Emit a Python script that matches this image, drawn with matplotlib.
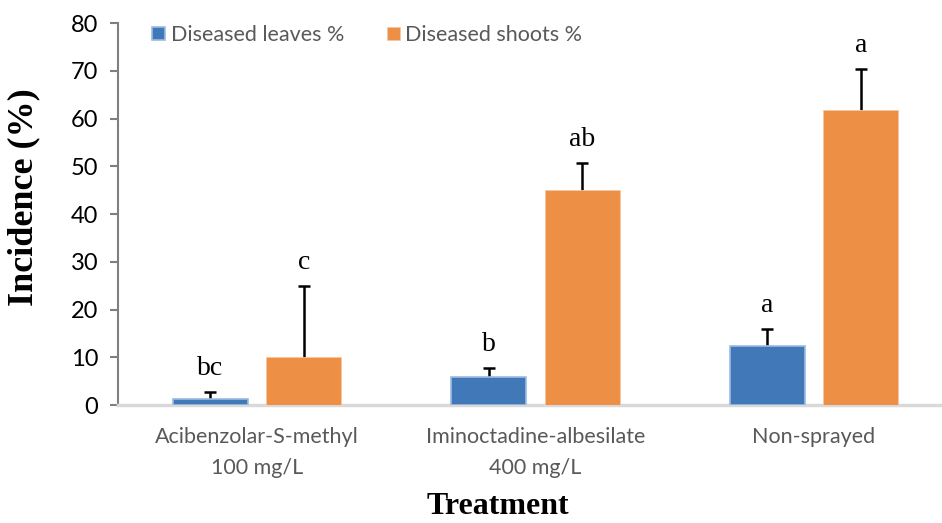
import matplotlib.pyplot as plt
import numpy as np

# Datos
treatments = ["Acibenzolar-S-methyl\n100 mg/L", "Iminoctadine-albesilate\n400 mg/L", "Non-sprayed"]
leaves = [1.2, 5.9, 12.4]
leaves_err = [1.5, 1.8, 3.5]
shoots = [10.0, 45.0, 61.8]
shoots_err = [15.0, 5.7, 8.6]
leaves_letters = ["bc", "b", "a"]
shoots_letters = ["c", "ab", "a"]

blue = '#4178b8'
orange = '#ed8f44'

fig = plt.figure(figsize=(9.42, 5.23), dpi=100)
ax = fig.add_axes([0.125, 0.2256, 0.875, 0.7304])

x = np.arange(len(treatments))
w = 0.27
off = 0.168

ax.bar(x - off, leaves, w, color=blue, edgecolor='#9dbbe0', linewidth=1.2, label='Diseased leaves %', zorder=3)
ax.bar(x + off, shoots, w, color=orange, edgecolor='#f5c6a0', linewidth=0.5, label='Diseased shoots %', zorder=3)

# barras de error solo hacia arriba (se oculta el cap inferior)
for xs, vals, errs in [(x - off, leaves, leaves_err), (x + off, shoots, shoots_err)]:
    _, caps, _ = ax.errorbar(xs, vals, yerr=[np.zeros(3), errs], fmt='none', ecolor='black',
                             elinewidth=1.8, capsize=4, capthick=1.8, zorder=2)
    caps[0].set_visible(False)

for i in range(len(x)):
    ax.text(x[i] - off, leaves[i] + leaves_err[i] + 2.3, leaves_letters[i], ha='center', va='bottom',
            fontsize=20, family='Liberation Serif')
    ax.text(x[i] + off, shoots[i] + shoots_err[i] + 2.3, shoots_letters[i], ha='center', va='bottom',
            fontsize=20, family='Liberation Serif')

ax.set_ylim(0, 80)
ax.set_xlim(-0.5, 2.46)
ax.set_yticks(range(0, 81, 10))
ax.set_xticks(x)
ax.set_xticklabels(treatments, fontsize=15.5, color='#595959', family='Lato', linespacing=1.7)
ax.tick_params(axis='y', labelsize=17, colors='#7f7f7f', labelcolor='black', length=6, width=1.5,
               direction='out', pad=8)
for lab in ax.get_yticklabels():
    lab.set_family('Lato')
ax.tick_params(axis='x', length=0, pad=16)

for s in ['top', 'right']:
    ax.spines[s].set_visible(False)
ax.spines['left'].set_color('#7f7f7f')
ax.spines['left'].set_linewidth(1.5)
ax.spines['bottom'].set_color('#d9d9d9')
ax.spines['bottom'].set_linewidth(2.5)

ax.set_ylabel('Incidence (%)', fontsize=26, fontweight='bold', family='Liberation Serif')
ax.yaxis.set_label_coords(-0.094, 0.545)
fig.text(0.528, 0.017, 'Treatment', fontsize=23, fontweight='bold', family='Liberation Serif',
         ha='center', va='baseline')

leg = ax.legend(loc='upper left', bbox_to_anchor=(0.0185, 1.045), ncol=2, frameon=False,
                handlelength=0.6, handleheight=0.6, handletextpad=0.25, columnspacing=2.0,
                prop={'family': 'Lato', 'size': 15.5})
for t in leg.get_texts():
    t.set_color('#595959')

fig.savefig('out.png', dpi=100)
